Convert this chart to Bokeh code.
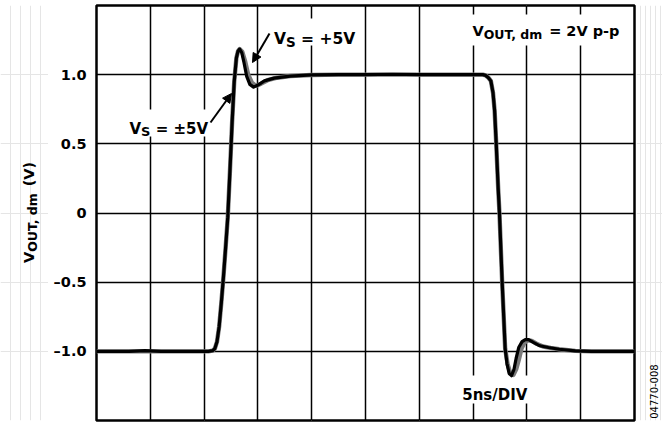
import math
from bokeh.plotting import figure
from bokeh.layouts import row
from bokeh.models import FixedTicker, Grid, Label, Arrow, NormalHead, Range1d
from bokeh.embed import file_html
from bokeh.resources import INLINE

# ---------------- data (time in ns, differential output in V) ----------------
# V_S = ±5V trace (black)
t_pm5 = [0.0, 1.5, 3.0, 4.5, 6.0, 7.5, 9.0, 10.4, 10.8, 11.0, 11.2, 11.4, 11.6, 11.8, 12.0,
         12.2, 12.4, 12.6, 12.8, 13.0, 13.15, 13.3, 13.5, 13.7, 13.95, 14.25, 14.6, 15.0, 15.6,
         16.5, 18.0, 20.0, 22.5, 25.0, 27.5, 30.0, 32.5, 35.0, 35.9, 36.15, 36.4, 36.65, 36.85,
         37.0, 37.15, 37.33, 37.45, 37.7, 37.98, 38.15, 38.35, 38.57, 38.8, 39.0, 39.25, 39.55,
         39.85, 40.15, 40.6, 41.2, 42.0, 43.0, 44.5, 46.0, 48.0, 50.0]
v_pm5 = [-1.0, -1.0, -1.0, -0.995, -1.0, -1.0, -1.0, -1.0, -0.995, -0.98, -0.93, -0.82, -0.65, -0.46, -0.25,
         -0.03, 0.3, 0.65, 0.95, 1.12, 1.17, 1.185, 1.16, 1.09, 0.99, 0.93, 0.91, 0.925, 0.955,
         0.975, 0.99, 0.998, 1.0, 1.0, 1.003, 1.0, 1.0, 1.0, 1.0, 0.995, 0.98, 0.955, 0.87,
         0.74, 0.5, 0.18, 0.0, -0.5, -0.98, -1.09, -1.16, -1.176, -1.13, -1.05, -0.97, -0.93,
         -0.915, -0.915, -0.935, -0.96, -0.972, -0.985, -0.997, -1.0, -1.0, -1.0]
# V_S = +5V trace (gray)
t_p5 = [0.0, 1.5, 3.0, 4.5, 6.0, 7.5, 9.0, 10.4, 10.8, 11.0, 11.2, 11.4, 11.6, 11.8, 12.0,
        12.2, 12.4, 12.6, 12.8, 13.0, 13.15, 13.3, 13.55, 13.8, 14.1, 14.45, 14.85, 15.3, 15.9,
        16.8, 18.0, 20.0, 22.5, 25.0, 27.5, 30.0, 32.5, 35.0, 35.9, 36.15, 36.4, 36.65, 36.85,
        37.0, 37.15, 37.33, 37.45, 37.7, 37.98, 38.2, 38.45, 38.75, 39.0, 39.25, 39.5, 39.8,
        40.1, 40.45, 40.9, 41.5, 42.2, 43.0, 44.5, 46.0, 48.0, 50.0]
v_p5 = [-1.0, -1.0, -1.0, -1.0, -1.0, -1.0, -1.0, -1.0, -0.995, -0.98, -0.93, -0.82, -0.65, -0.46, -0.25,
        -0.03, 0.3, 0.65, 0.95, 1.12, 1.17, 1.185, 1.165, 1.1, 1.0, 0.94, 0.92, 0.935, 0.96,
        0.978, 0.99, 0.998, 1.0, 1.0, 1.0, 1.0, 1.0, 1.0, 1.0, 0.995, 0.98, 0.955, 0.87,
        0.74, 0.5, 0.18, 0.0, -0.5, -0.98, -1.09, -1.155, -1.17, -1.13, -1.06, -0.98, -0.935,
        -0.92, -0.925, -0.945, -0.965, -0.975, -0.985, -0.997, -1.0, -1.0, -1.0]

x_grid_ticks = [5, 10, 15, 20, 25, 30, 35, 40, 45]
y_ticks = [-1.0, -0.5, 0.0, 0.5, 1.0]
y_tick_labels = ["\u20131.0", "\u20130.5", "0", "0.5", "1.0"]

# ---------------- helpers: reference pixel -> data units (annotation placement) ----
def rx(px):
    return (px - 96) / (634 - 96) * 50.0

def ry(py):
    return 1.5 - (py - 5) / (420 - 5) * 3.0

# DejaVu Sans Bold advance widths (em)
W = {' ': .348, '\u00a0': .348, 'V': .774, 'O': .850, 'U': .812, 'T': .682, ',': .380, 'd': .716,
     'm': 1.042, 'S': .720, '=': .838, '+': .838, '\u00b1': .838, '2': .696, '5': .696, 'p': .716,
     '-': .415, '(': .457, ')': .457}

def tw(s, size):
    return sum(W.get(c, .6) for c in s) * size

FONT = "DejaVu Sans"
NB = "\u00a0"
H = 423
TOP, BOT = 5, 3

# ---------------- main plot ----------------
p = figure(width=588, height=H, x_range=Range1d(0, 50), y_range=Range1d(-1.5, 1.5),
           x_axis_location=None, y_axis_location="left",
           toolbar_location=None, output_backend="svg",
           min_border_left=48, min_border_right=2, min_border_top=TOP, min_border_bottom=BOT)
p.background_fill_color = "white"
p.border_fill_color = "white"
p.outline_line_color = "black"
p.outline_line_width = 2.5

yt = FixedTicker(ticks=y_ticks)
p.yaxis.ticker = yt
p.yaxis.major_label_overrides = {v: s for v, s in zip(y_ticks, y_tick_labels)}
p.yaxis.axis_line_color = None
p.yaxis.major_tick_line_color = None
p.yaxis.minor_tick_line_color = None
p.yaxis.major_tick_out = 0
p.yaxis.major_tick_in = 0
p.yaxis.major_label_standoff = 10
p.yaxis.major_label_text_font = FONT
p.yaxis.major_label_text_font_style = "bold"
p.yaxis.major_label_text_font_size = "14.5px"
p.yaxis.major_label_text_color = "black"

p.ygrid.ticker = yt
p.ygrid.grid_line_color = "black"
p.ygrid.grid_line_width = 1.5
vgrid = Grid(dimension=0, ticker=FixedTicker(ticks=x_grid_ticks),
             grid_line_color="black", grid_line_width=1.5)
p.add_layout(vgrid)

# white boxes behind in-plot texts (reference pixel extents)
boxes = [(466, 628, 14, 45), (268, 361, 18, 45), (124, 209, 109, 136), (457, 531, 375, 403)]
p.quad(left=[rx(b[0]) for b in boxes], right=[rx(b[1]) for b in boxes],
       top=[ry(b[2]) for b in boxes], bottom=[ry(b[3]) for b in boxes],
       fill_color="white", line_color=None)

p.line(t_p5, v_p5, line_color="#7a7a7a", line_width=4.4, line_join="round")
p.line(t_pm5, v_pm5, line_color="black", line_width=3.2, line_join="round")


def lab(fig, x, y, text, size, xo=0.0, yo=0.0, angle=0.0, bold=True):
    fig.add_layout(Label(x=x, y=y, text=text, x_offset=xo, y_offset=yo, angle=angle,
                         text_font=FONT, text_font_size=f"{size}px",
                         text_font_style="bold" if bold else "normal",
                         text_color="black", text_align="left", text_baseline="alphabetic"))


def sub_label(fig, x, y, m1, s, m2, F, f, shift):
    w1 = tw(m1, F)
    w2 = tw(s, f)
    lab(fig, x, y, m1, F)
    lab(fig, x, y, s, f, xo=w1, yo=-shift)
    lab(fig, x, y, m2, F, xo=w1 + w2)


def sub_label_rot(fig, x, y, m1, s, m2, F, f, shift):
    a = math.pi / 2
    w1 = tw(m1, F)
    w2 = tw(s, f)
    lab(fig, x, y, m1, F, angle=a)
    lab(fig, x, y, s, f, xo=shift, yo=w1, angle=a)
    lab(fig, x, y, m2, F, yo=w1 + w2, angle=a)


# in-plot annotations
sub_label(p, rx(472), ry(30.7), "V", "OUT, dm", NB + "= 2V p-p", 14.5, 12.5, 3.3)
sub_label(p, rx(273.5), ry(38.5), "V", "S", NB + "= +5V", 15.5, 13.5, 3.3)
sub_label(p, rx(129), ry(128), "V", "S", NB + "= \u00b15V", 15, 13, 3.3)
lab(p, rx(461.7), ry(394), "5ns/DIV", 15)

for (x0, y0, x1, y1) in [(269, 33, 252, 62), (210, 122, 231, 93)]:
    p.add_layout(Arrow(end=NormalHead(size=9, fill_color="black", line_color="black"),
                       x_start=rx(x0), y_start=ry(y0), x_end=rx(x1), y_end=ry(y1),
                       line_color="black", line_width=2))

# ---------------- left strip: y-axis title ----------------
left = figure(width=48, height=H, x_range=Range1d(0, 48), y_range=Range1d(-1.5, 1.5),
              x_axis_location=None, y_axis_location=None, toolbar_location=None,
              output_backend="svg", min_border_left=0, min_border_right=0,
              min_border_top=TOP, min_border_bottom=BOT)
left.outline_line_color = None
left.background_fill_color = "white"
left.border_fill_color = "white"
sub_label_rot(left, 28.5, ry(262.5), "V", "OUT, dm", NB + "(V)", 14.5, 12.5, 3.0)

# ---------------- right strip: figure id ----------------
right = figure(width=26, height=H, x_range=Range1d(636, 662), y_range=Range1d(-1.5, 1.5),
               x_axis_location=None, y_axis_location=None, toolbar_location=None,
               output_backend="svg", min_border_left=0, min_border_right=0,
               min_border_top=TOP, min_border_bottom=BOT)
right.outline_line_color = None
right.background_fill_color = "white"
right.border_fill_color = "white"
lab(right, 653, ry(418.3), "04770-008", 10, angle=math.pi / 2, bold=False)

layout = row(left, p, right)
open("out.html", "w").write(file_html(layout, INLINE))
